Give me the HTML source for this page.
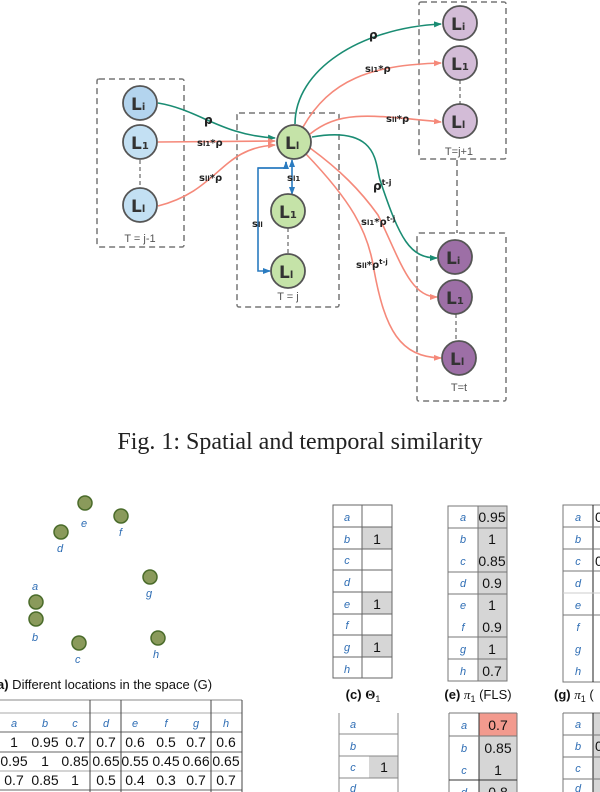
<!DOCTYPE html>
<html><head><meta charset="utf-8"><style>
html,body{margin:0;padding:0;background:#fff;width:600px;height:792px;overflow:hidden}
svg{display:block}
.n{font-family:"DejaVu Sans",sans-serif;font-weight:bold;font-size:17px;fill:#333}
.sb{font-size:10px}
.lab{font-family:"DejaVu Sans",sans-serif;font-weight:bold;font-size:10px;fill:#222}
.bt{font-family:"Liberation Sans",sans-serif;font-size:11px;fill:#555}
.lt{font-family:"Liberation Sans",sans-serif;font-style:italic;font-size:11px;fill:#2e6db4}
.tv{font-family:"Liberation Sans",sans-serif;font-size:14px;fill:#111}
.cap{font-family:"Liberation Sans",sans-serif;font-size:13px;fill:#111}
</style></head><body>
<svg width="600" height="792" viewBox="0 0 600 792" xmlns="http://www.w3.org/2000/svg">
<defs>
<marker id="ag" markerWidth="8" markerHeight="8" refX="7" refY="4" orient="auto" markerUnits="userSpaceOnUse"><path d="M0,1 L8,4 L0,7z" fill="#1a8c73"/></marker>
<marker id="ar" markerWidth="8" markerHeight="8" refX="7" refY="4" orient="auto" markerUnits="userSpaceOnUse"><path d="M0,1 L8,4 L0,7z" fill="#f5897a"/></marker>
<marker id="ab" markerWidth="8" markerHeight="8" refX="7" refY="4" orient="auto" markerUnits="userSpaceOnUse"><path d="M0,1 L8,4 L0,7z" fill="#2a7bc0"/></marker>
</defs>
<g fill="none" stroke="#777" stroke-width="1.5" stroke-dasharray="6,4">
<rect x="97" y="79" width="87" height="168" rx="2"/>
<rect x="237" y="113" width="102" height="194" rx="2"/>
<rect x="419" y="2" width="87" height="157" rx="2"/>
<rect x="417" y="233" width="89" height="168" rx="2"/>
<line x1="457" y1="160" x2="457" y2="233"/>
</g>
<g stroke="#666" stroke-width="1.2" stroke-dasharray="4,3"><line x1="140" y1="160" x2="140" y2="188"/><line x1="288" y1="228" x2="288" y2="254"/><line x1="460" y1="80" x2="460" y2="104"/><line x1="456" y1="314" x2="456" y2="341"/></g>
<!-- connectors -->
<g fill="none" stroke-width="1.6">
<path d="M158,103 C200,110 220,135 275,138" stroke="#1a8c73" marker-end="url(#ag)"/>
<path d="M158,142 L275,141" stroke="#f5897a" marker-end="url(#ar)"/>
<path d="M158,206 C220,190 220,148 275,145" stroke="#f5897a" marker-end="url(#ar)"/>
<path d="M295,124 C295,70 360,28 441,24" stroke="#1a8c73" marker-end="url(#ag)"/>
<path d="M303,127 C330,80 370,65 441,63" stroke="#f5897a" marker-end="url(#ar)"/>
<path d="M310,134 C340,110 370,115 441,122" stroke="#f5897a" marker-end="url(#ar)"/>
<path d="M312,137 C380,125 375,165 380,180 C400,240 410,258 437,258" stroke="#1a8c73" marker-end="url(#ag)"/>
<path d="M310,148 C340,170 360,190 378,215 C400,260 410,297 437,297" stroke="#f5897a" marker-end="url(#ar)"/>
<path d="M306,154 C350,200 368,230 374,270 C385,330 400,357 441,358" stroke="#f5897a" marker-end="url(#ar)"/>
<path d="M286,162 L286,168 L258,168 L258,271 L270,271" stroke="#2a7bc0" marker-end="url(#ab)"/>
<path d="M258,168 L286,168 L286,162" stroke="#2a7bc0" marker-end="url(#ab)"/>
<path d="M292,170 L292,194" stroke="#2a7bc0" marker-end="url(#ab)"/>
<path d="M292,170 L292,160" stroke="#2a7bc0" marker-end="url(#ab)"/>
</g>
<g stroke="#555" stroke-width="1.8">
<circle cx="140" cy="103" r="17" fill="#b3d4ee"/><circle cx="140" cy="142" r="17" fill="#c3e0f3"/><circle cx="140" cy="205" r="17" fill="#c3e0f3"/>
<circle cx="294" cy="142" r="17" fill="#c5e3a8"/><circle cx="288" cy="211" r="17" fill="#c5e3a8"/><circle cx="288" cy="271" r="17" fill="#c5e3a8"/>
<circle cx="460" cy="23" r="17" fill="#d3bcd7"/><circle cx="460" cy="63" r="17" fill="#d3bcd7"/><circle cx="460" cy="121" r="17" fill="#d3bcd7"/>
<circle cx="455" cy="257" r="17" fill="#9d6fa6"/><circle cx="455" cy="297" r="17" fill="#9d6fa6"/><circle cx="459" cy="358" r="17" fill="#9d6fa6"/>
</g>
<g class="n">
<text x="131" y="110">L<tspan class="sb">i</tspan></text><text x="131" y="149">L<tspan class="sb">1</tspan></text><text x="131" y="212">L<tspan class="sb">l</tspan></text>
<text x="285" y="149">L<tspan class="sb">l</tspan></text><text x="279" y="218">L<tspan class="sb">1</tspan></text><text x="279" y="278">L<tspan class="sb">l</tspan></text>
<text x="451" y="30">L<tspan class="sb">i</tspan></text><text x="451" y="70">L<tspan class="sb">1</tspan></text><text x="451" y="128">L<tspan class="sb">l</tspan></text>
<text x="446" y="264">L<tspan class="sb">i</tspan></text><text x="446" y="304">L<tspan class="sb">1</tspan></text><text x="450" y="365">L<tspan class="sb">l</tspan></text>
</g>
<g class="lab">
<text x="204" y="124" font-size="12">ρ</text>
<text x="197" y="146">s<tspan font-size="7">l1</tspan>*ρ</text>
<text x="199" y="181">s<tspan font-size="7">ll</tspan>*ρ</text>
<text x="287" y="181">s<tspan font-size="7">l1</tspan></text>
<text x="252" y="227">s<tspan font-size="7">ll</tspan></text>
<text x="369" y="39" font-size="12">ρ</text>
<text x="365" y="72">s<tspan font-size="7">l1</tspan>*ρ</text>
<text x="386" y="122">s<tspan font-size="7">ll</tspan>*ρ</text>
<text x="373" y="190" font-size="12">ρ<tspan font-size="8" dy="-5">t-j</tspan></text>
<text x="361" y="225">s<tspan font-size="7">l1</tspan>*ρ<tspan font-size="7" dy="-4">t-j</tspan></text>
<text x="356" y="268">s<tspan font-size="7">ll</tspan>*ρ<tspan font-size="7" dy="-4">t-j</tspan></text>
</g>
<g class="bt"><text x="140" y="242" text-anchor="middle">T = j-1</text><text x="288" y="300" text-anchor="middle">T = j</text><text x="459" y="155" text-anchor="middle">T=j+1</text><text x="459" y="391" text-anchor="middle">T=t</text></g>
<text x="300" y="449" text-anchor="middle" font-family="Liberation Serif,serif" font-size="24" fill="#222">Fig. 1: Spatial and temporal similarity</text>
<!-- dots -->
<g fill="#8a9a5b" stroke="#4a6b2a" stroke-width="1.5">
<circle cx="85" cy="503" r="7"/><circle cx="121" cy="516" r="7"/><circle cx="61" cy="532" r="7"/><circle cx="150" cy="577" r="7"/><circle cx="36" cy="602" r="7"/><circle cx="36" cy="619" r="7"/><circle cx="79" cy="643" r="7"/><circle cx="158" cy="638" r="7"/>
</g>
<g class="lt" font-size="12"><text x="81" y="527">e</text><text x="119" y="536">f</text><text x="57" y="552">d</text><text x="146" y="597">g</text><text x="32" y="590">a</text><text x="32" y="641">b</text><text x="75" y="663">c</text><text x="153" y="658">h</text></g>
<text x="-3" y="689" class="cap"><tspan font-weight="bold">a)</tspan> Different locations in the space (G)</text>
<!-- left table -->
<g stroke="#aaa" stroke-width="1"><line x1="0" y1="713" x2="242" y2="713"/><line x1="0" y1="732" x2="242" y2="732" stroke="#666"/><line x1="0" y1="752" x2="242" y2="752" stroke="#666"/><line x1="0" y1="771" x2="242" y2="771"/><line x1="0" y1="790" x2="242" y2="790" stroke="#666"/><line x1="0" y1="700" x2="242" y2="700" stroke="#888"/></g>
<g stroke="#444" stroke-width="1"><line x1="90" y1="700" x2="90" y2="792"/><line x1="121" y1="700" x2="121" y2="792"/><line x1="211" y1="700" x2="211" y2="792"/><line x1="242" y1="700" x2="242" y2="792"/></g>
<g class="lt" text-anchor="middle"><text x="14" y="727">a</text><text x="45" y="727">b</text><text x="75" y="727">c</text><text x="106" y="727">d</text><text x="135" y="727">e</text><text x="166" y="727">f</text><text x="196" y="727">g</text><text x="226" y="727">h</text></g>
<g class="tv" text-anchor="middle">
<text x="14" y="747">1</text><text x="45" y="747">0.95</text><text x="75" y="747">0.7</text><text x="106" y="747">0.7</text><text x="135" y="747">0.6</text><text x="166" y="747">0.5</text><text x="196" y="747">0.7</text><text x="226" y="747">0.6</text>
<text x="14" y="766">0.95</text><text x="45" y="766">1</text><text x="75" y="766">0.85</text><text x="106" y="766">0.65</text><text x="135" y="766">0.55</text><text x="166" y="766">0.45</text><text x="196" y="766">0.66</text><text x="226" y="766">0.65</text>
<text x="14" y="785">0.7</text><text x="45" y="785">0.85</text><text x="75" y="785">1</text><text x="106" y="785">0.5</text><text x="135" y="785">0.4</text><text x="166" y="785">0.3</text><text x="196" y="785">0.7</text><text x="226" y="785">0.7</text>
</g>
<!-- table c -->
<g>
<rect x="362" y="527" width="30" height="22" fill="#d6d6d6"/><rect x="362" y="592" width="30" height="22" fill="#d6d6d6"/><rect x="362" y="635" width="30" height="22" fill="#d6d6d6"/>
<g stroke="#666" fill="none"><rect x="333" y="505" width="59" height="173"/><line x1="362" y1="505" x2="362" y2="678"/>
<line x1="333" y1="527" x2="392" y2="527"/><line x1="333" y1="549" x2="392" y2="549"/><line x1="333" y1="570" x2="392" y2="570"/><line x1="333" y1="592" x2="392" y2="592"/><line x1="333" y1="614" x2="392" y2="614"/><line x1="333" y1="635" x2="392" y2="635"/><line x1="333" y1="657" x2="392" y2="657"/></g>
<g class="lt" font-size="13" text-anchor="middle"><text x="347" y="521">a</text><text x="347" y="543">b</text><text x="347" y="564">c</text><text x="347" y="586">d</text><text x="347" y="608">e</text><text x="347" y="629">f</text><text x="347" y="651">g</text><text x="347" y="673">h</text></g>
<g class="tv" text-anchor="middle"><text x="377" y="544">1</text><text x="377" y="609">1</text><text x="377" y="652">1</text></g>
</g>
<!-- table e -->
<g>
<rect x="478" y="506" width="29" height="175" fill="#d6d6d6"/>
<g stroke="#777" fill="none"><rect x="448" y="506" width="59" height="175"/><line x1="478" y1="506" x2="478" y2="681"/>
<line x1="448" y1="528" x2="507" y2="528"/><line x1="448" y1="572" x2="507" y2="572"/><line x1="448" y1="594" x2="507" y2="594"/><line x1="448" y1="637" x2="507" y2="637"/><line x1="448" y1="659" x2="507" y2="659"/></g>
<g class="lt" font-size="10" text-anchor="middle"><text x="463" y="521">a</text><text x="463" y="543">b</text><text x="463" y="565">c</text><text x="463" y="587">d</text><text x="463" y="609">e</text><text x="463" y="631">f</text><text x="463" y="653">g</text><text x="463" y="675">h</text></g>
<g class="tv" text-anchor="middle"><text x="492" y="522">0.95</text><text x="492" y="544">1</text><text x="492" y="566">0.85</text><text x="492" y="588">0.9</text><text x="492" y="610">1</text><text x="492" y="632">0.9</text><text x="492" y="654">1</text><text x="492" y="676">0.7</text></g>
</g>
<!-- table g -->
<g>
<g stroke="#777" fill="none"><rect x="563" y="505" width="60" height="177"/><line x1="593" y1="505" x2="593" y2="682" stroke="#222"/>
<line x1="563" y1="527" x2="600" y2="527"/><line x1="563" y1="549" x2="600" y2="549"/><line x1="563" y1="571" x2="600" y2="571"/><line x1="563" y1="593" x2="600" y2="593" stroke="#ccc"/><line x1="563" y1="615" x2="600" y2="615"/></g>
<g class="lt" font-size="10" text-anchor="middle"><text x="578" y="521">a</text><text x="578" y="543">b</text><text x="578" y="565">c</text><text x="578" y="587">d</text><text x="578" y="609">e</text><text x="578" y="631">f</text><text x="578" y="653">g</text><text x="578" y="675">h</text></g>
<g class="tv"><text x="595" y="522">0</text><text x="595" y="566">0</text></g>
</g>
<g class="cap" text-anchor="middle"><text x="363" y="699"><tspan font-weight="bold">(c)</tspan> <tspan font-family="Liberation Serif,serif" font-weight="bold">Θ</tspan><tspan font-size="9" dy="3">1</tspan></text>
<text x="478" y="699"><tspan font-weight="bold">(e)</tspan> <tspan font-family="Liberation Serif,serif" font-style="italic">π</tspan><tspan font-size="9" dy="3">1</tspan><tspan dy="-3"> (FLS)</tspan></text></g>
<text x="554" y="699" class="cap"><tspan font-weight="bold">(g)</tspan> <tspan font-family="Liberation Serif,serif" font-style="italic">π</tspan><tspan font-size="9" dy="3">1</tspan><tspan dy="-3"> (</tspan></text>
<!-- second row tables -->
<g>
<rect x="369" y="756" width="29" height="22" fill="#d6d6d6"/>
<g stroke="#888" fill="none"><line x1="339" y1="713" x2="339" y2="792"/><line x1="398" y1="713" x2="398" y2="792"/><line x1="339" y1="734" x2="398" y2="734"/><line x1="339" y1="756" x2="398" y2="756"/><line x1="339" y1="778" x2="398" y2="778"/></g>
<g class="lt" font-size="9" text-anchor="middle"><text x="353" y="728">a</text><text x="353" y="750">b</text><text x="353" y="771">c</text><text x="353" y="792">d</text></g>
<text x="384" y="772" class="tv" text-anchor="middle">1</text>
</g>
<g>
<rect x="479" y="736" width="38" height="56" fill="#d6d6d6"/><rect x="479" y="713" width="38" height="23" fill="#f29a8e"/>
<g stroke="#777" fill="none"><line x1="449" y1="713" x2="517" y2="713"/><line x1="449" y1="713" x2="449" y2="792"/><line x1="517" y1="713" x2="517" y2="792"/><line x1="479" y1="713" x2="479" y2="792" stroke="#333"/><line x1="449" y1="736" x2="517" y2="736"/><line x1="449" y1="780" x2="517" y2="780" stroke="#333"/></g>
<g class="lt" font-size="12" text-anchor="middle"><text x="464" y="729">a</text><text x="464" y="752">b</text><text x="464" y="774">c</text><text x="464" y="796">d</text></g>
<g class="tv" text-anchor="middle" font-size="15"><text x="498" y="730">0.7</text><text x="498" y="753">0.85</text><text x="498" y="775">1</text><text x="498" y="797">0.8</text></g>
</g>
<g>
<rect x="593" y="713" width="7" height="79" fill="#d6d6d6"/>
<g stroke="#777" fill="none"><line x1="563" y1="713" x2="600" y2="713"/><line x1="563" y1="713" x2="563" y2="792"/><line x1="593" y1="713" x2="593" y2="792" stroke="#222"/><line x1="563" y1="735" x2="600" y2="735"/><line x1="563" y1="757" x2="600" y2="757"/><line x1="563" y1="779" x2="600" y2="779"/></g>
<g class="lt" font-size="10" text-anchor="middle"><text x="578" y="728">a</text><text x="578" y="750">b</text><text x="578" y="772">c</text><text x="578" y="792">d</text></g>
<g class="tv"><text x="595" y="751">0</text></g>
</g>
</svg>
</body></html>
